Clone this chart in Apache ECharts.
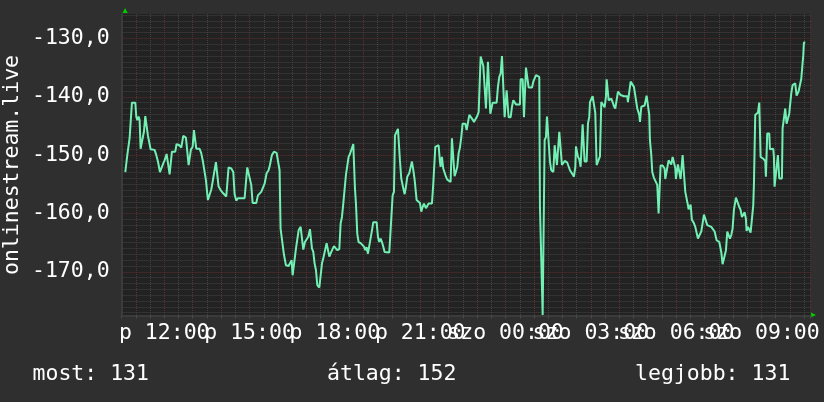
<!DOCTYPE html>
<html><head><meta charset="utf-8">
<script src="https://cdn.jsdelivr.net/npm/echarts@6/dist/echarts.min.js"></script>
<style>html,body{margin:0;padding:0;background:#2f2f2f;}#c{width:824px;height:402px;}</style>
</head><body><div id="c"></div>
<script>
// time in minutes since Friday 00:00, value
const part1 = [[637.8,-152.9],[642.0,-150.0],[646.9,-147.1],[649.0,-147.1],[651.8,-141.0],[658.9,-141.0],[661.0,-143.4],[663.1,-144.0],[665.9,-143.4],[668.0,-144.0],[670.1,-148.9],[673.6,-148.9],[677.1,-146.0],[680.0,-143.3],[682.8,-143.3],[685.6,-146.7],[689.1,-146.9],[691.2,-149.0],[699.6,-149.1],[703.2,-150.0],[706.7,-151.1],[710.9,-152.9],[715.1,-152.9],[717.9,-151.4],[720.7,-150.9],[725.0,-149.8],[729.2,-149.8],[731.3,-153.3],[734.8,-153.3],[736.2,-149.4],[743.2,-149.4],[746.0,-148.1],[751.7,-148.3],[755.9,-148.7],[760.1,-146.7],[765.7,-147.0],[769.2,-147.0],[771.4,-151.7],[774.2,-151.7],[776.3,-149.0],[779.8,-148.6],[782.6,-145.7],[785.4,-145.8],[787.5,-148.9],[794.6,-148.9],[798.1,-149.7],[801.6,-151.1],[805.1,-151.4],[807.9,-154.3],[812.1,-157.7],[814.9,-157.7],[819.2,-155.9],[822.0,-154.6],[826.2,-154.4],[829.0,-151.2],[833.2,-151.2],[834.6,-155.4],[838.9,-156.0],[843.8,-156.5],[847.3,-156.6],[850.8,-157.1],[854.3,-157.1],[855.7,-152.1],[861.4,-152.3],[865.6,-152.9],[868.4,-156.7],[871.9,-157.8],[875.4,-157.4],[879.6,-157.1],[883.9,-157.4],[889.5,-157.4],[893.7,-157.6],[895.1,-152.1],[899.3,-152.1],[903.5,-155.1],[906.4,-158.2],[914.1,-158.2],[917.6,-156.9],[921.8,-157.1],[924.6,-156.3],[928.2,-156.5],[931.7,-154.9],[935.9,-153.1],[940.1,-152.6],[942.9,-151.7],[947.1,-150.0],[951.4,-149.4],[957.0,-149.6],[961.2,-149.8],[963.3,-152.6],[965.4,-162.6],[969.6,-162.7],[972.4,-167.0],[976.7,-168.9],[982.3,-169.0]];
const part2 = [[988.7,-168.0],[990.8,-170.6],[995.0,-170.6],[997.9,-166.0],[1000.7,-165.7],[1003.5,-162.9],[1007.7,-162.3],[1010.5,-162.6],[1013.3,-166.2],[1016.8,-164.9],[1020.4,-164.9],[1023.9,-164.0],[1027.4,-162.7],[1029.5,-162.7],[1031.6,-166.0],[1034.4,-166.6],[1037.2,-168.6],[1040.0,-169.7],[1042.9,-172.3],[1047.1,-172.7],[1049.9,-172.7],[1052.7,-168.6],[1055.5,-167.7],[1059.7,-167.4],[1062.5,-165.1],[1065.4,-165.1],[1068.2,-167.4],[1072.4,-166.6],[1075.2,-166.3],[1078.0,-165.6],[1082.2,-165.6],[1085.0,-166.3],[1089.3,-166.1],[1092.1,-161.7],[1094.9,-160.6],[1097.7,-158.3],[1101.2,-158.3],[1103.3,-153.4],[1106.1,-153.3],[1108.9,-150.3],[1111.8,-149.8],[1116.0,-149.7],[1118.8,-148.1],[1120.2,-148.1],[1122.3,-155.7],[1124.4,-158.3],[1127.2,-163.5],[1130.0,-164.9],[1134.3,-165.1],[1138.5,-165.1],[1141.3,-165.7],[1144.1,-166.3],[1146.9,-165.8],[1149.7,-166.9],[1153.9,-167.0],[1158.2,-162.9],[1161.0,-161.5],[1168.0,-161.5],[1170.8,-164.0],[1173.6,-164.9],[1176.4,-164.3],[1179.3,-164.9],[1182.1,-165.7],[1184.9,-166.6],[1189.1,-166.7],[1194.7,-166.7],[1197.5,-162.9],[1201.8,-156.9],[1204.6,-156.3],[1206.7,-146.6],[1210.2,-146.4],[1213.0,-145.5],[1215.8,-145.6],[1217.2,-150.9],[1220.0,-154.0],[1224.3,-155.7],[1227.1,-156.7],[1229.9,-155.4],[1232.7,-153.7],[1236.9,-153.1],[1239.7,-152.1],[1242.5,-151.1],[1245.3,-152.5],[1248.2,-154.2],[1251.0,-154.3],[1252.4,-157.7],[1256.6,-158.0],[1259.4,-158.2],[1262.2,-159.7],[1265.0,-158.9],[1267.9,-158.3],[1272.1,-159.1],[1274.9,-158.9],[1277.7,-158.3],[1281.9,-158.2],[1284.7,-158.3],[1287.5,-155.0],[1290.4,-154.9],[1291.8,-148.6],[1294.6,-148.3],[1298.8,-148.3],[1301.6,-151.1],[1303.0,-152.0],[1305.8,-150.3],[1308.6,-152.3],[1311.4,-152.6],[1314.3,-153.7],[1317.1,-154.2],[1319.9,-154.4],[1324.1,-154.6],[1326.9,-147.1],[1329.7,-147.1],[1332.5,-153.6],[1335.3,-152.9],[1338.2,-152.0],[1341.0,-149.7],[1343.8,-148.7],[1346.6,-146.9],[1349.4,-144.6],[1353.6,-144.3]];
const part3 = [[1355.1,-144.6],[1357.9,-145.7],[1360.8,-145.6],[1363.6,-143.1],[1367.8,-143.1],[1370.6,-143.9],[1373.4,-144.3],[1376.2,-143.9],[1380.4,-143.3],[1383.3,-142.6],[1386.1,-142.3],[1387.5,-133.1],[1390.3,-133.1],[1393.1,-134.7],[1397.3,-134.7],[1398.7,-142.0],[1401.5,-142.0],[1402.9,-134.0],[1405.8,-134.0],[1407.9,-142.9],[1410.0,-143.0],[1412.8,-141.0],[1421.2,-141.0],[1424.0,-138.3],[1426.8,-136.6],[1429.7,-136.0],[1432.5,-133.0],[1436.7,-133.0],[1438.1,-143.5],[1440.9,-143.5],[1442.3,-138.9],[1445.1,-139.1],[1446.5,-143.5],[1450.8,-143.5],[1453.6,-141.7],[1456.4,-140.6],[1459.2,-140.7],[1462.0,-141.3],[1470.4,-141.3],[1471.8,-137.0],[1476.1,-137.0],[1478.9,-143.5],[1481.7,-143.5],[1483.1,-135.0],[1485.9,-135.1],[1488.7,-138.4],[1492.9,-138.6],[1495.8,-138.4],[1498.6,-137.4],[1501.4,-137.4],[1504.2,-136.3],[1508.4,-136.3],[1511.2,-136.6],[1512.6,-158.9],[1515.4,-158.9],[1518.3,-177.4],[1521.1,-177.4],[1522.5,-147.4],[1525.3,-146.9],[1527.4,-143.4],[1530.9,-143.5],[1533.7,-151.1],[1536.5,-152.6],[1540.8,-152.9],[1543.6,-148.3],[1546.4,-148.3],[1548.5,-151.7],[1550.6,-151.5],[1553.4,-146.0],[1556.2,-146.0],[1559.0,-151.7],[1561.8,-151.9],[1564.7,-151.0],[1567.5,-150.9],[1570.3,-151.3],[1573.1,-151.4],[1575.9,-152.6],[1578.7,-152.9],[1581.5,-153.3],[1584.3,-153.7],[1587.2,-152.0],[1588.6,-148.5],[1591.4,-148.6],[1592.8,-150.3],[1595.6,-150.7],[1598.4,-152.0],[1599.8,-152.0],[1602.6,-144.7],[1605.4,-144.9],[1606.8,-151.1],[1611.1,-151.1],[1613.9,-144.6],[1616.7,-143.4],[1618.1,-140.9],[1620.9,-140.6],[1623.7,-139.9],[1626.5,-140.0],[1629.3,-142.7],[1632.2,-151.7],[1636.4,-151.7],[1639.2,-150.2],[1642.0,-140.9],[1646.2,-140.9],[1649.0,-141.8],[1651.8,-140.0],[1653.3,-137.0],[1656.1,-137.3],[1657.5,-140.6],[1660.3,-140.6],[1663.1,-140.3],[1665.9,-140.9],[1668.7,-141.6],[1671.5,-142.0],[1674.3,-141.7],[1677.2,-139.1],[1680.0,-138.9],[1682.8,-139.7],[1685.6,-139.7],[1689.8,-139.9],[1692.6,-139.7],[1696.8,-139.9],[1698.2,-140.9],[1701.1,-140.6],[1703.9,-137.4],[1708.1,-137.4],[1710.9,-138.3],[1713.7,-138.0]];
const part4 = [[1717.9,-142.0],[1722.1,-143.1],[1723.6,-144.3],[1726.4,-141.7],[1729.2,-141.4],[1733.4,-141.5],[1736.2,-141.3],[1737.6,-139.8],[1741.8,-139.8],[1743.2,-143.1],[1744.6,-147.4],[1747.5,-150.0],[1749.6,-152.9],[1753.1,-153.9],[1757.3,-154.0],[1760.1,-155.1],[1762.9,-160.0],[1765.7,-160.0],[1767.1,-151.8],[1771.4,-151.8],[1775.6,-152.3],[1777.0,-154.1],[1781.2,-154.1],[1784.0,-150.9],[1786.8,-150.9],[1789.6,-151.6],[1792.5,-150.3],[1795.3,-150.3],[1798.1,-152.2],[1799.5,-154.1],[1802.3,-154.0],[1803.7,-151.6],[1806.5,-151.6],[1809.3,-154.1],[1812.1,-154.0],[1813.6,-150.0],[1816.4,-150.0],[1819.2,-156.3],[1822.0,-156.4],[1824.8,-158.6],[1826.2,-159.3],[1830.4,-158.5],[1833.2,-161.1],[1837.5,-161.7],[1840.3,-162.3],[1843.1,-162.3],[1845.9,-164.3],[1850.1,-164.3],[1852.9,-163.1],[1855.7,-161.7],[1858.6,-160.2],[1862.8,-160.3],[1865.6,-162.0],[1869.8,-162.3],[1874.0,-162.3],[1878.2,-162.5],[1881.1,-163.1],[1885.3,-164.6],[1890.9,-164.9],[1895.1,-166.6],[1897.9,-168.7],[1902.1,-168.7],[1905.0,-166.3],[1907.8,-163.1],[1910.6,-163.0],[1913.4,-164.3],[1916.2,-163.7],[1919.0,-162.6],[1921.8,-159.4],[1926.1,-157.3],[1930.3,-157.4],[1933.1,-158.9],[1935.9,-159.4],[1938.7,-160.6],[1941.5,-160.4],[1944.3,-159.8],[1947.1,-160.9],[1948.5,-163.0],[1951.4,-162.3],[1954.2,-162.3],[1957.0,-163.3],[1961.2,-163.1],[1962.6,-158.6],[1964.0,-155.1],[1965.4,-155.1],[1966.8,-143.1],[1969.6,-143.0],[1972.5,-142.7],[1975.3,-141.0],[1976.7,-141.1],[1978.1,-150.3],[1982.3,-150.5],[1985.1,-150.7],[1987.9,-151.1],[1989.3,-153.7],[1990.7,-153.7],[1992.1,-146.3],[1996.4,-146.3],[1997.8,-149.0],[2000.6,-148.9],[2004.8,-148.9],[2006.2,-150.3],[2007.6,-155.4],[2011.8,-155.4],[2014.6,-150.0],[2016.1,-150.0],[2017.5,-154.0],[2023.1,-154.0],[2024.5,-145.4],[2027.3,-145.1],[2030.1,-142.0],[2032.9,-144.6],[2035.7,-144.6],[2038.5,-142.9],[2041.4,-142.9],[2042.8,-139.4],[2045.6,-138.0],[2048.4,-137.7],[2051.2,-137.7],[2054.0,-139.8],[2056.8,-140.0],[2058.2,-139.1],[2061.0,-139.0],[2063.9,-136.9],[2066.7,-136.6],[2068.1,-132.9],[2069.5,-130.7],[2072.3,-130.7]];

const yTickLabels = [-170, -160, -150, -140, -130];
const xLabelTimes = [720, 900, 1080, 1260, 1440, 1620, 1800, 1980];
const dayPrefixes = ['p', 'szo'];
const axisTitle = 'onlinestream.live';
const statTexts = ['most: 131', 'átlag: 152', 'legjobb: 131'];

const FONT = '"DejaVu Sans Mono", monospace';
const FS = 21.5;
const GRAY = '#444444';
const RED = '#5e3030';
const LINE = '#72f0b4';
const Y_MIN = -177.5, Y_MAX = -125.8;

// horizontal grid: every unit, red every 10
const hLines = [];
for (let v = Math.ceil(Y_MIN); v <= Math.floor(Y_MAX); v++) {
  hLines.push({yAxis: v, lineStyle: {color: v % 10 === 0 ? RED : GRAY, type: [1, 1], width: 1}});
}
function pad(n) { return (n < 10 ? '0' : '') + n; }

const chart = echarts.init(document.getElementById('c'), null, {renderer: 'canvas'});
chart.setOption({
  backgroundColor: '#2f2f2f',
  animation: false,
  grid: {left: 121.6, top: 14, width: 689.1, height: 301.5, show: true,
         backgroundColor: '#222222', borderWidth: 0, containLabel: false, outerBoundsMode: 'none'},
  xAxis: {
    type: 'value', min: 630, max: 2083.8, interval: 30,
    axisLine: {show: true, onZero: false, lineStyle: {color: '#3b3b3b', width: 2}},
    axisTick: {show: true, length: 3, lineStyle: {color: '#4a4a4a'}},
    axisLabel: {
      color: '#ffffff', fontFamily: FONT, fontSize: FS, margin: 7,
      formatter: function (v) {
        const m = Math.round(v);
        if (xLabelTimes.indexOf(m) < 0) return '';
        const day = m < 1440 ? dayPrefixes[0] : dayPrefixes[1];
        const h = Math.round(m / 60) % 24;
        return day + ' ' + pad(h) + ':00';
      }
    },
    splitLine: {show: true, lineStyle: {color: [GRAY, RED], type: [1, 1], width: 1}}
  },
  yAxis: {
    type: 'value', min: Y_MIN, max: Y_MAX,
    axisLine: {show: true, onZero: false, lineStyle: {color: '#3b3b3b', width: 2}},
    axisTick: {show: false},
    axisLabel: {
      color: '#ffffff', fontFamily: FONT, fontSize: FS, margin: 12,
      showMinLabel: false, showMaxLabel: false,
      formatter: function (v) {
        const r = Math.round(v * 10) / 10;
        if (yTickLabels.indexOf(r) < 0) return '';
        return r.toFixed(1).replace('.', ',');
      }
    },
    splitLine: {show: false}
  },
  series: [{
    type: 'line', name: 'grid', data: [], z: 1, silent: true,
    markLine: {silent: true, symbol: ['none', 'none'], label: {show: false}, animation: false,
               emphasis: {disabled: true}, data: hLines}
  }, {
    type: 'line',
    data: part1.concat(part2, part3, part4),
    showSymbol: false, symbol: 'none',
    lineStyle: {color: LINE, width: 2},
    itemStyle: {color: LINE},
    clip: true, z: 5
  }],
  graphic: [
    {type: 'text', x: 12, y: 165, rotation: Math.PI / 2,
     style: {text: axisTitle, fill: '#ffffff', font: FS + 'px ' + FONT, align: 'center', verticalAlign: 'middle'}},
    {type: 'text', x: 32.5, y: 374,
     style: {text: statTexts[0], fill: '#ffffff', font: FS + 'px ' + FONT, align: 'left', verticalAlign: 'middle'}},
    {type: 'text', x: 327, y: 374,
     style: {text: statTexts[1], fill: '#ffffff', font: FS + 'px ' + FONT, align: 'left', verticalAlign: 'middle'}},
    {type: 'text', x: 635, y: 374,
     style: {text: statTexts[2], fill: '#ffffff', font: FS + 'px ' + FONT, align: 'left', verticalAlign: 'middle'}},
    {type: 'polygon', shape: {points: [[122.5, 13], [127.7, 13], [125.1, 8]]}, style: {fill: '#00cc00'}},
    {type: 'polygon', shape: {points: [[811, 312.4], [811, 317.6], [816, 315]]}, style: {fill: '#00cc00'}}
  ]
});
</script></body></html>
